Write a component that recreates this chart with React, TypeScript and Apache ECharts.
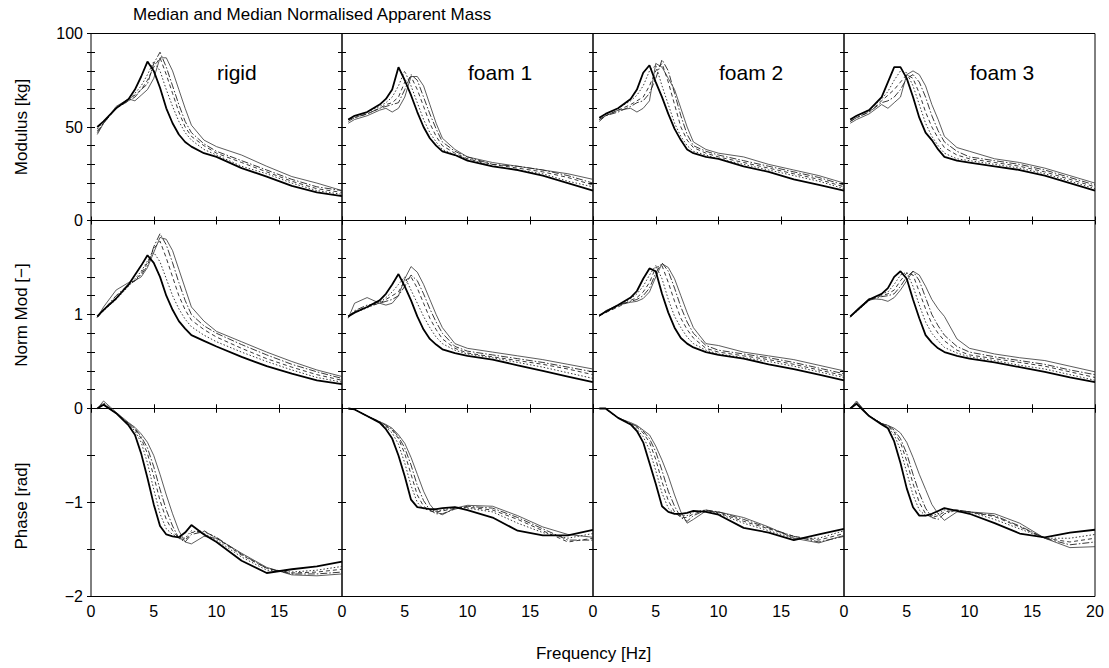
import React, { useEffect, useRef } from "react";
import * as echarts from "echarts";

// Frequency grid [Hz]
const freq = [0.5, 1, 2, 3, 3.5, 4, 4.5, 5, 5.5, 6, 6.5, 7, 7.5, 8, 9, 10, 12, 14, 16, 18, 20];

const panelTitles = ["rigid", "foam 1", "foam 2", "foam 3"];
const rowTitles = ["Modulus [kg]", "Norm Mod [\u2212]", "Phase [rad]"];
const xTickLabels = ["0", "5", "10", "15", "20"];

// Each panel: five curves [thick solid, dotted, dashed, dash-dot, thin solid]
const rigidModulus = [
  [50, 53, 60, 65, 70, 77, 85, 80, 71, 60, 52, 46, 42, 39.5, 36, 34, 28, 23.5, 18.5, 15, 13],
  [49, 53, 60, 64, 68, 72, 78, 85, 80, 70, 61, 53, 47, 43, 38, 35, 29, 25, 20, 16, 14],
  [48, 52, 60, 65, 67, 70, 75, 82, 87, 78, 68, 58, 50, 45, 40, 36, 31, 26, 21, 17, 15],
  [47, 52, 60, 64, 66, 70, 73, 84, 90, 82, 72, 62, 53, 47, 41, 37, 32, 27, 22, 18, 16],
  [46, 52, 61, 65, 64, 67, 70, 76, 87, 87, 80, 70, 60, 51, 43, 39.5, 35, 29, 23.5, 20, 16],
];
const foam1Modulus = [
  [54, 56, 58, 62, 65, 70, 82, 75, 67, 58, 50, 44, 40, 37, 35, 32, 29, 27, 24, 20, 16],
  [54, 56, 58, 61, 63, 66, 72, 80, 72, 63, 54, 47, 42, 38, 35, 33, 29, 27, 25, 21, 18],
  [54, 55, 57, 60, 62, 63, 66, 74, 77, 70, 61, 52, 45, 40, 36, 33, 30, 28, 26, 23, 19],
  [53, 55, 57, 60, 61, 62, 63, 70, 78, 75, 66, 57, 49, 42, 37, 34, 30, 29, 27, 24, 20],
  [52, 54, 56, 59, 60, 58, 60, 66, 77, 77, 72, 62, 52, 44, 38, 34, 31, 29, 27, 25, 22],
];
const foam2Modulus = [
  [55, 57, 60, 65, 70, 79, 83, 74, 66, 57, 49, 43, 38, 36, 34, 33, 29, 26, 22, 19, 16],
  [55, 57, 60, 64, 67, 72, 80, 83, 72, 62, 52, 45, 40, 37, 35, 33, 30, 27, 24, 21, 17],
  [54, 56, 59, 62, 64, 66, 72, 80, 84, 74, 62, 50, 43, 39, 36, 34, 31, 28, 25, 22, 18],
  [53, 56, 58, 61, 63, 64, 68, 76, 86, 80, 68, 56, 46, 40, 37, 35, 32, 29, 26, 23, 19],
  [54, 56, 59, 60, 58, 60, 64, 84, 82, 76, 70, 60, 50, 42, 38, 36, 34, 30, 27, 24, 20],
];
const foam3Modulus = [
  [54, 56, 59, 66, 74, 82, 82, 76, 66, 55, 47, 43, 38, 34, 32, 31, 29, 27, 24, 20, 16],
  [54, 56, 59, 65, 69, 75, 80, 79, 72, 62, 52, 45, 40, 36, 33, 32, 30, 28, 25, 21, 17],
  [53, 55, 58, 64, 67, 70, 74, 78, 76, 68, 58, 50, 44, 39, 35, 33, 31, 29, 26, 22, 18],
  [53, 55, 58, 63, 64, 66, 70, 76, 78, 74, 66, 56, 48, 42, 37, 34, 32, 30, 27, 23, 19],
  [52, 54, 57, 62, 60, 63, 66, 78, 80, 78, 72, 62, 54, 45, 39, 37, 33, 31, 28, 24, 20],
];

const rigidNorm = [
  [0.98, 1.05, 1.17, 1.32, 1.42, 1.52, 1.63, 1.55, 1.4, 1.2, 1.05, 0.93, 0.85, 0.78, 0.72, 0.66, 0.55, 0.45, 0.37, 0.3, 0.26],
  [0.98, 1.04, 1.16, 1.3, 1.38, 1.46, 1.57, 1.66, 1.56, 1.38, 1.2, 1.06, 0.95, 0.87, 0.78, 0.71, 0.6, 0.5, 0.41, 0.33, 0.28],
  [0.97, 1.04, 1.18, 1.31, 1.36, 1.44, 1.55, 1.7, 1.78, 1.6, 1.4, 1.2, 1.05, 0.94, 0.84, 0.76, 0.64, 0.53, 0.44, 0.36, 0.3],
  [0.97, 1.05, 1.2, 1.32, 1.36, 1.42, 1.52, 1.72, 1.86, 1.74, 1.55, 1.34, 1.15, 1.0, 0.88, 0.8, 0.68, 0.57, 0.47, 0.39, 0.32],
  [0.97, 1.08, 1.26, 1.34, 1.36, 1.4, 1.5, 1.66, 1.82, 1.8, 1.68, 1.48, 1.28, 1.08, 0.93, 0.82, 0.71, 0.6, 0.5, 0.41, 0.34],
];
const foam1Norm = [
  [0.98, 1.02, 1.08, 1.15, 1.22, 1.32, 1.43, 1.3, 1.15, 0.98, 0.84, 0.74, 0.68, 0.63, 0.59, 0.56, 0.52, 0.46, 0.4, 0.34, 0.28],
  [0.98, 1.02, 1.07, 1.13, 1.18, 1.24, 1.32, 1.4, 1.26, 1.12, 0.98, 0.86, 0.76, 0.69, 0.62, 0.58, 0.54, 0.49, 0.44, 0.38, 0.32],
  [0.98, 1.03, 1.08, 1.12, 1.16, 1.2, 1.24, 1.36, 1.4, 1.28, 1.12, 0.96, 0.84, 0.74, 0.64, 0.59, 0.55, 0.51, 0.47, 0.42, 0.36],
  [0.97, 1.04, 1.1, 1.12, 1.14, 1.16, 1.2, 1.3, 1.42, 1.36, 1.22, 1.06, 0.92, 0.8, 0.66, 0.61, 0.57, 0.53, 0.49, 0.44, 0.39],
  [0.96, 1.12, 1.18, 1.12, 1.1, 1.12, 1.2, 1.38, 1.51, 1.45, 1.32, 1.16, 1.0, 0.86, 0.69, 0.64, 0.6, 0.56, 0.52, 0.47, 0.42],
];
const foam2Norm = [
  [0.99, 1.03, 1.1, 1.18, 1.25, 1.38, 1.49, 1.46, 1.22, 1.02, 0.86, 0.75, 0.69, 0.65, 0.6, 0.57, 0.53, 0.47, 0.42, 0.36, 0.3],
  [0.99, 1.02, 1.09, 1.17, 1.22, 1.3, 1.42, 1.52, 1.38, 1.16, 0.98, 0.86, 0.76, 0.69, 0.62, 0.58, 0.54, 0.5, 0.45, 0.39, 0.33],
  [0.99, 1.02, 1.08, 1.15, 1.18, 1.24, 1.34, 1.5, 1.52, 1.34, 1.14, 0.96, 0.84, 0.75, 0.64, 0.6, 0.56, 0.52, 0.47, 0.41, 0.35],
  [0.98, 1.03, 1.1, 1.14, 1.16, 1.2, 1.28, 1.44, 1.55, 1.46, 1.28, 1.08, 0.92, 0.8, 0.67, 0.62, 0.58, 0.54, 0.49, 0.43, 0.37],
  [0.98, 1.04, 1.1, 1.13, 1.14, 1.17, 1.24, 1.4, 1.54, 1.5, 1.38, 1.2, 1.02, 0.86, 0.69, 0.67, 0.6, 0.56, 0.52, 0.46, 0.4],
];
const foam3Norm = [
  [0.98, 1.04, 1.16, 1.22, 1.28, 1.4, 1.46, 1.38, 1.16, 0.96, 0.78, 0.7, 0.64, 0.6, 0.56, 0.53, 0.49, 0.44, 0.39, 0.33, 0.28],
  [0.98, 1.03, 1.15, 1.22, 1.24, 1.32, 1.42, 1.45, 1.3, 1.1, 0.92, 0.8, 0.72, 0.65, 0.59, 0.55, 0.51, 0.46, 0.42, 0.36, 0.3],
  [0.98, 1.04, 1.16, 1.2, 1.22, 1.26, 1.36, 1.44, 1.42, 1.24, 1.06, 0.9, 0.8, 0.72, 0.62, 0.57, 0.53, 0.49, 0.45, 0.39, 0.33],
  [0.97, 1.04, 1.15, 1.19, 1.2, 1.22, 1.3, 1.4, 1.46, 1.36, 1.18, 1.0, 0.88, 0.78, 0.66, 0.6, 0.55, 0.51, 0.47, 0.41, 0.36],
  [0.97, 1.05, 1.17, 1.16, 1.14, 1.18, 1.26, 1.36, 1.46, 1.42, 1.3, 1.16, 1.06, 0.98, 0.74, 0.64, 0.58, 0.54, 0.51, 0.45, 0.39],
];

const rigidPhase = [
  [0.0, 0.04, -0.05, -0.18, -0.28, -0.48, -0.74, -1.02, -1.25, -1.34, -1.36, -1.37, -1.32, -1.24, -1.34, -1.42, -1.62, -1.75, -1.71, -1.68, -1.63],
  [0.0, 0.04, -0.05, -0.17, -0.24, -0.36, -0.58, -0.86, -1.12, -1.28, -1.34, -1.37, -1.38, -1.3, -1.33, -1.4, -1.58, -1.72, -1.74, -1.72, -1.68],
  [0.0, 0.05, -0.05, -0.16, -0.22, -0.32, -0.48, -0.72, -0.98, -1.18, -1.3, -1.38, -1.4, -1.32, -1.3, -1.38, -1.56, -1.7, -1.75, -1.74, -1.71],
  [0.0, 0.06, -0.05, -0.16, -0.21, -0.3, -0.42, -0.62, -0.86, -1.08, -1.25, -1.38, -1.42, -1.34, -1.31, -1.37, -1.55, -1.7, -1.76, -1.76, -1.74],
  [0.0, 0.08, -0.04, -0.15, -0.2, -0.27, -0.36, -0.5, -0.7, -0.92, -1.12, -1.3, -1.42, -1.44, -1.36, -1.38, -1.54, -1.69, -1.77, -1.78, -1.76],
];
const foam1Phase = [
  [0.0, -0.01, -0.08, -0.15, -0.22, -0.32, -0.5, -0.72, -0.97, -1.05, -1.06, -1.07, -1.07, -1.06, -1.05, -1.08, -1.16, -1.3, -1.35, -1.35, -1.29],
  [0.0, -0.01, -0.08, -0.15, -0.2, -0.26, -0.38, -0.58, -0.82, -1.0, -1.07, -1.08, -1.09, -1.08, -1.05, -1.06, -1.1, -1.22, -1.32, -1.38, -1.33],
  [0.0, -0.01, -0.08, -0.15, -0.19, -0.23, -0.32, -0.48, -0.7, -0.92, -1.04, -1.09, -1.1, -1.09, -1.06, -1.05, -1.08, -1.18, -1.3, -1.42, -1.38],
  [0.0, -0.01, -0.08, -0.14, -0.18, -0.22, -0.3, -0.42, -0.6, -0.82, -0.98, -1.08, -1.12, -1.12, -1.07, -1.04, -1.06, -1.16, -1.28, -1.4, -1.4],
  [0.0, -0.01, -0.08, -0.14, -0.17, -0.21, -0.28, -0.37, -0.52, -0.7, -0.88, -1.02, -1.1, -1.13, -1.06, -1.03, -1.04, -1.14, -1.26, -1.34, -1.37],
];
const foam2Phase = [
  [0.0, 0.0, -0.1, -0.17, -0.24, -0.36, -0.58, -0.8, -1.04, -1.1, -1.12, -1.12, -1.11, -1.09, -1.1, -1.13, -1.27, -1.32, -1.4, -1.34, -1.28],
  [0.0, 0.0, -0.1, -0.17, -0.22, -0.3, -0.44, -0.66, -0.9, -1.06, -1.12, -1.14, -1.14, -1.1, -1.08, -1.12, -1.22, -1.3, -1.38, -1.38, -1.3],
  [0.0, 0.0, -0.1, -0.16, -0.2, -0.26, -0.36, -0.54, -0.78, -0.98, -1.1, -1.16, -1.16, -1.12, -1.08, -1.11, -1.2, -1.28, -1.36, -1.4, -1.33],
  [0.0, 0.0, -0.1, -0.16, -0.19, -0.24, -0.32, -0.46, -0.66, -0.88, -1.04, -1.16, -1.2, -1.14, -1.08, -1.1, -1.18, -1.27, -1.36, -1.42, -1.36],
  [0.0, 0.0, -0.1, -0.15, -0.18, -0.23, -0.28, -0.4, -0.55, -0.72, -0.92, -1.1, -1.22, -1.18, -1.09, -1.1, -1.16, -1.26, -1.38, -1.43, -1.35],
];
const foam3Phase = [
  [0.0, 0.05, -0.08, -0.17, -0.21, -0.35, -0.58, -0.85, -1.05, -1.14, -1.14, -1.12, -1.09, -1.06, -1.09, -1.12, -1.22, -1.33, -1.37, -1.32, -1.29],
  [0.0, 0.05, -0.08, -0.16, -0.2, -0.28, -0.44, -0.68, -0.92, -1.08, -1.14, -1.14, -1.12, -1.08, -1.08, -1.1, -1.18, -1.28, -1.38, -1.38, -1.34],
  [0.0, 0.06, -0.08, -0.16, -0.19, -0.25, -0.36, -0.56, -0.8, -1.0, -1.12, -1.16, -1.14, -1.1, -1.08, -1.1, -1.15, -1.26, -1.38, -1.42, -1.38],
  [0.0, 0.07, -0.08, -0.16, -0.18, -0.23, -0.32, -0.48, -0.7, -0.9, -1.06, -1.16, -1.18, -1.12, -1.08, -1.1, -1.14, -1.25, -1.38, -1.45, -1.42],
  [0.0, 0.08, -0.08, -0.16, -0.18, -0.21, -0.26, -0.36, -0.52, -0.7, -0.86, -1.02, -1.12, -1.19, -1.1, -1.1, -1.12, -1.22, -1.38, -1.48, -1.47],
];

const rowData = [
  [rigidModulus, foam1Modulus, foam2Modulus, foam3Modulus],
  [rigidNorm, foam1Norm, foam2Norm, foam3Norm],
  [rigidPhase, foam1Phase, foam2Phase, foam3Phase],
];

const FONT = "'Liberation Sans', Arial, Helvetica, sans-serif";

const colLeft = [91, 342, 593, 844];
const colWidth = 251;
const rowTop = [33.5, 220.5, 408.5];
const rowHeight = [187, 188, 188];

const rowAxis = [
  { min: 0, max: 100, interval: 10, label: (v: number) => (Math.abs(v % 50) < 1e-6 ? String(v) : "") },
  { min: 0, max: 2, interval: 0.2, label: (v: number) => (Math.abs(v - 1) < 1e-6 ? "1" : "") },
  {
    min: -2,
    max: 0,
    interval: 0.5,
    label: (v: number) =>
      Math.abs(v - Math.round(v)) < 1e-6 ? (v < 0 ? "\u2212" + Math.abs(Math.round(v)) : "0") : "",
  },
];

const lineStyles = [
  { width: 1.8, type: "solid", color: "#000" },
  { width: 0.9, type: [1.5, 2], color: "#222" },
  { width: 0.9, type: [4, 3], color: "#222" },
  { width: 0.9, type: [7, 2, 1.5, 2], color: "#222" },
  { width: 0.8, type: "solid", color: "#333" },
];

export default function App() {
  const ref = useRef<HTMLDivElement>(null);
  useEffect(() => {
    if (!ref.current) return;
    const chart = echarts.init(ref.current, null, { renderer: "svg" });
    const grid: any[] = [];
    const xAxis: any[] = [];
    const yAxis: any[] = [];
    const series: any[] = [];
    for (let r = 0; r < 3; r++) {
      for (let c = 0; c < 4; c++) {
        const g = grid.length;
        grid.push({
          left: colLeft[c],
          top: rowTop[r],
          width: colWidth,
          height: rowHeight[r],
          show: true,
          borderColor: "#000",
          borderWidth: 1,
          backgroundColor: "transparent",
          containLabel: false,
          outerBoundsMode: "none",
        });
        const tick = { show: true, inside: true, length: 4, lineStyle: { color: "#000", width: 1 } };
        xAxis.push({
          type: "value",
          gridIndex: g,
          position: "bottom",
          min: 0,
          max: 20,
          interval: 5,
          axisLine: { show: false },
          axisTick: tick,
          splitLine: { show: false },
          axisLabel: {
            show: r === 2,
            margin: 7,
            color: "#000",
            fontSize: 16,
            fontFamily: FONT,
            formatter: (v: number) => (c < 3 && v === 20 ? "" : xTickLabels[Math.round(v / 5)]),
          },
        });
        xAxis.push({
          type: "value",
          gridIndex: g,
          position: "top",
          min: 0,
          max: 20,
          interval: 5,
          axisLine: { show: false },
          axisTick: tick,
          splitLine: { show: false },
          axisLabel: { show: false },
        });
        const ra = rowAxis[r];
        yAxis.push({
          type: "value",
          gridIndex: g,
          position: "left",
          min: ra.min,
          max: ra.max,
          interval: ra.interval,
          axisLine: { show: false },
          axisTick: tick,
          splitLine: { show: false },
          axisLabel: {
            show: c === 0,
            margin: 8,
            color: "#000",
            fontSize: 16,
            fontFamily: FONT,
            formatter: ra.label,
          },
        });
        yAxis.push({
          type: "value",
          gridIndex: g,
          position: "right",
          min: ra.min,
          max: ra.max,
          interval: ra.interval,
          axisLine: { show: false },
          axisTick: tick,
          splitLine: { show: false },
          axisLabel: { show: false },
        });
        const curves = rowData[r][c];
        curves.forEach((vals: number[], k: number) => {
          series.push({
            type: "line",
            xAxisIndex: 2 * g,
            yAxisIndex: 2 * g,
            data: freq.map((f, i) => [f, vals[i]]),
            showSymbol: false,
            symbol: "none",
            silent: true,
            clip: r !== 2,
            z: 10 - k,
            lineStyle: lineStyles[k],
          });
        });
      }
    }

    const graphic: any[] = [
      {
        type: "text",
        left: 133,
        top: 6,
        style: { text: "Median and Median Normalised Apparent Mass", fontSize: 17, fontFamily: FONT, fill: "#000" },
      },
      {
        type: "text",
        x: 593.5,
        y: 653,
        style: { text: "Frequency [Hz]", fontSize: 17, fontFamily: FONT, fill: "#000", align: "center", verticalAlign: "middle" },
      },
    ];
    const rowCenters = [127, 315, 506];
    rowTitles.forEach((t, i) => {
      graphic.push({
        type: "text",
        x: 21,
        y: rowCenters[i],
        rotation: Math.PI / 2,
        style: { text: t, fontSize: 17, fontFamily: FONT, fill: "#000", align: "center", verticalAlign: "middle" },
      });
    });
    panelTitles.forEach((t, i) => {
      graphic.push({
        type: "text",
        x: colLeft[i] + 126,
        y: 72,
        z: 100,
        style: { text: t, fontSize: 21, fontFamily: FONT, fill: "#000", align: "left", verticalAlign: "middle" },
      });
    });

    chart.setOption({
      animation: false,
      backgroundColor: "#fff",
      textStyle: { fontFamily: FONT },
      grid,
      xAxis,
      yAxis,
      series,
      graphic,
    });
    return () => chart.dispose();
  }, []);
  return (
    <div
      ref={ref}
      style={{ position: "absolute", left: 0, top: 0, width: 1109, height: 668, background: "#fff" }}
    />
  );
}
